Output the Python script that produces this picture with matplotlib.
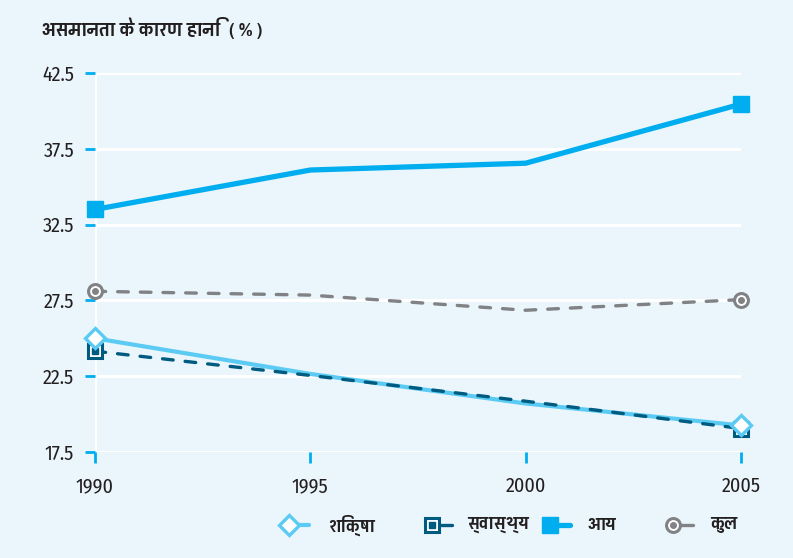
import matplotlib
matplotlib.use("Agg")
import matplotlib.pyplot as plt
from matplotlib.lines import Line2D

# data
years = [1990, 1995, 2000, 2005]
shiksha = [25.0, 22.65, 20.7, 19.25]      # education
swasthya = [24.15, 22.55, 20.85, 19.05]   # health
aay = [33.5, 36.1, 36.55, 40.45]          # income
kul = [28.1, 27.85, 26.85, 27.55]         # total

names = ["शिक्षा", "स्वास्थ्य", "आय", "कुल"]
yticks = [17.5, 22.5, 27.5, 32.5, 37.5, 42.5]
title = "असमानता के कारण हानि  ( % )"

bg = "#eaf6fc"
c_edu = "#5ccbf3"
c_health = "#005b80"
c_income = "#00aeef"
c_total = "#808285"
txt = "#231f20"
hfont = ["Pragati Narrow", "DejaVu Sans"]
nfont = ["Fira Sans Condensed", "DejaVu Sans"]

fig = plt.figure(figsize=(7.93, 5.58), dpi=100, facecolor=bg)
ax = fig.add_axes([95 / 793, 1 - 452 / 558, (741 - 95) / 793, (452 - 73) / 558])
ax.set_facecolor(bg)

ax.set_xlim(1990, 2005)
ax.set_ylim(17.5, 42.5)
for s in ax.spines.values():
    s.set_visible(False)

# white grid
for y in yticks:
    ax.axhline(y, color="white", lw=2.2, zorder=1)
ax.axvline(1990, color="white", lw=2.2, zorder=1)

ax.set_yticks(yticks)
ax.set_yticklabels([f"{v:.1f}" for v in yticks])
ax.set_xticks(years)
ax.set_xticklabels([str(y) for y in years])
ax.tick_params(axis="y", direction="out", length=7, width=2, color=c_income,
               pad=8, labelsize=14.5, labelcolor=txt)
ax.tick_params(axis="x", direction="out", length=8, width=2, color=c_income,
               pad=10, labelsize=14.5, labelcolor=txt)
for lab in ax.get_xticklabels() + ax.get_yticklabels():
    lab.set_family(nfont)

dash = (0, (3.2, 3.6))

# lines
ax.plot(years, kul, color=c_total, lw=2.4, ls=dash, dash_capstyle="round", zorder=3)
ax.plot(years, aay, color=c_income, lw=3.8, zorder=3)
ax.plot(years, shiksha, color=c_edu, lw=3.0, zorder=3)
ax.plot(years, swasthya, color=c_health, lw=2.4, ls=dash, dash_capstyle="round", zorder=4)

# end markers
ends = [0, 3]
ax.plot(years, kul, ls="none", marker="o", ms=10, mfc="white", mec=c_total,
        mew=2.2, markevery=ends, zorder=5, clip_on=False)
ax.plot(years, kul, ls="none", marker="o", ms=4, mfc=c_total, mec=c_total,
        markevery=ends, zorder=6, clip_on=False)
ax.plot(years, aay, ls="none", marker="s", ms=12, color=c_income,
        markevery=ends, zorder=5, clip_on=False)
ax.plot(years, swasthya, ls="none", marker="s", ms=10, mfc="white", mec=c_health,
        mew=2.2, markevery=ends, zorder=5, clip_on=False)
ax.plot(years, swasthya, ls="none", marker="s", ms=4, color=c_health,
        markevery=ends, zorder=6, clip_on=False)
ax.plot(years, shiksha, ls="none", marker="D", ms=10, mfc="white", mec=c_edu,
        mew=2.4, markevery=ends, zorder=7, clip_on=False)

# title
fig.text(42 / 793, 1 - 28 / 558, title, family=hfont, fontsize=15, color=txt,
         va="center", ha="left", weight="bold")

# legend drawn by hand: marker then a short line segment
leg_y = 1 - 525 / 558
leg_x = [289, 432, 550, 673]
text_off = [39, 35, 37, 37]
styles = [
    dict(marker="D", ms=10, mfc="white", mec=c_edu, mew=2.4, color=c_edu, lw=3.0),
    dict(marker="s", ms=10, mfc="white", mec=c_health, mew=2.2, color=c_health, lw=2.4),
    dict(marker="s", ms=12, mfc=c_income, mec=c_income, color=c_income, lw=3.8),
    dict(marker="o", ms=10, mfc="white", mec=c_total, mew=2.2, color=c_total, lw=2.4),
]
inner = [None, ("s", c_health), None, ("o", c_total)]
for x, off, name, st, inn in zip(leg_x, text_off, names, styles, inner):
    x0 = x / 793
    lw = st.pop("lw")
    col = st.pop("color")
    fig.add_artist(Line2D([x0, x0 + 20 / 793], [leg_y, leg_y], color=col, lw=lw,
                          solid_capstyle="round", zorder=1))
    fig.add_artist(Line2D([x0], [leg_y], ls="none", zorder=2, **st))
    if inn:
        fig.add_artist(Line2D([x0], [leg_y], ls="none", marker=inn[0], ms=4,
                              color=inn[1], zorder=3))
    fig.text(x0 + off / 793, leg_y, name, family=hfont, fontsize=14, color=txt,
             va="center", ha="left", weight="bold")

fig.savefig("out.png", facecolor=bg)
